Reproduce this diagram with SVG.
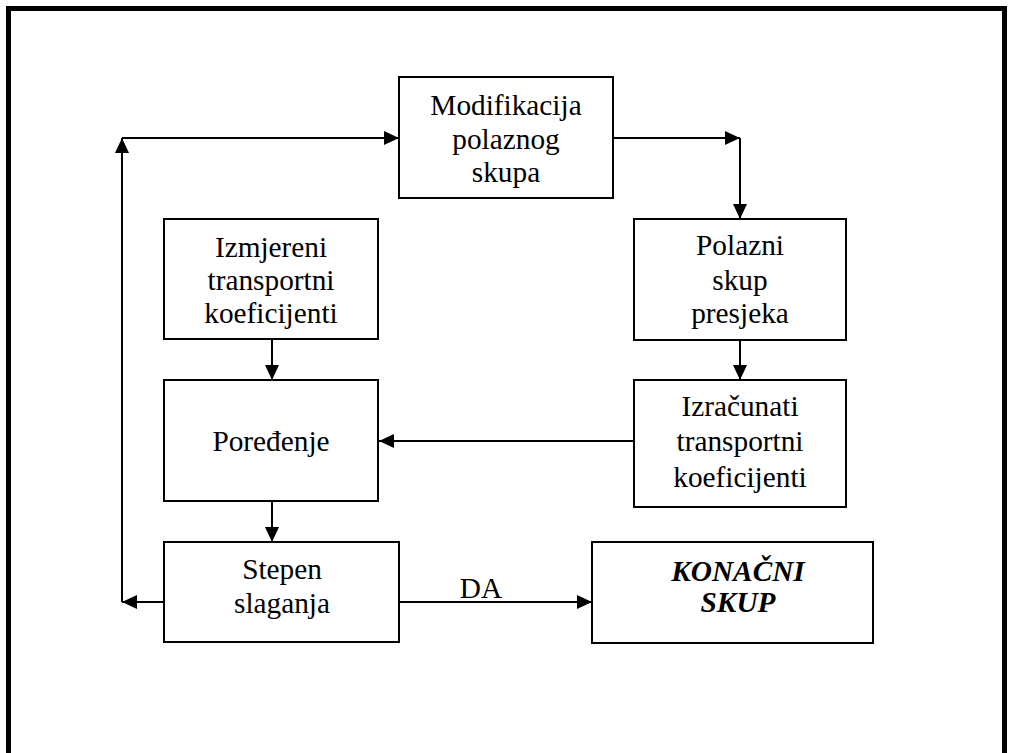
<svg xmlns="http://www.w3.org/2000/svg" width="1013" height="753" viewBox="0 0 1013 753">
<style>
.box{fill:#fff;stroke:#000;stroke-width:2}
.t{font-family:"Liberation Serif","Times New Roman",serif;font-size:29.3px;fill:#000;text-anchor:middle}
.bi{font-weight:bold;font-style:italic}
.c{fill:none;stroke:#000;stroke-width:2}
</style>
<defs>
<marker id="ah" markerUnits="userSpaceOnUse" markerWidth="16" markerHeight="14" refX="15" refY="7" orient="auto" viewBox="0 0 16 14">
<path d="M0,0 L15,7 L0,14 z" fill="#000"/>
</marker>
</defs>
<rect x="0" y="0" width="1013" height="753" fill="#fff"/>
<rect x="8.5" y="8.5" width="996" height="800" fill="none" stroke="#000" stroke-width="5"/>
<g id="connectors">
<path class="c" d="M164,602 H122" marker-end="url(#ah)"/>
<path class="c" d="M122,602 V138" marker-end="url(#ah)"/>
<path class="c" d="M122,138 H399" marker-end="url(#ah)"/>
<path class="c" d="M613,138 H740" marker-end="url(#ah)"/>
<path class="c" d="M740,138 V219" marker-end="url(#ah)"/>
<path class="c" d="M740,340 V380" marker-end="url(#ah)"/>
<path class="c" d="M634,441 H379" marker-end="url(#ah)"/>
<path class="c" d="M272,339 V380" marker-end="url(#ah)"/>
<path class="c" d="M272,501 V542" marker-end="url(#ah)"/>
<path class="c" d="M399,602 H592" marker-end="url(#ah)"/>
<text class="t" x="481" y="598">DA</text>
</g>
<g id="modifikacija">
<rect class="box" x="399" y="77" width="214" height="121"/>
<text class="t" x="506" y="115">Modifikacija</text>
<text class="t" x="506" y="149">polaznog</text>
<text class="t" x="506" y="182">skupa</text>
</g>
<g id="izmjereni">
<rect class="box" x="164" y="219" width="214" height="120"/>
<text class="t" x="271" y="257">Izmjereni</text>
<text class="t" x="271" y="290">transportni</text>
<text class="t" x="271" y="323">koeficijenti</text>
</g>
<g id="polazni">
<rect class="box" x="634" y="219" width="212" height="121"/>
<text class="t" x="740" y="255">Polazni</text>
<text class="t" x="740" y="290">skup</text>
<text class="t" x="740" y="323">presjeka</text>
</g>
<g id="poredjenje">
<rect class="box" x="164" y="380" width="214" height="121"/>
<text class="t" x="271" y="451">Poređenje</text>
</g>
<g id="izracunati">
<rect class="box" x="634" y="380" width="212" height="127"/>
<text class="t" x="740" y="416">Izračunati</text>
<text class="t" x="740" y="451">transportni</text>
<text class="t" x="740" y="487">koeficijenti</text>
</g>
<g id="stepen">
<rect class="box" x="164" y="542" width="235" height="100"/>
<text class="t" x="282" y="579">Stepen</text>
<text class="t" x="282" y="613">slaganja</text>
</g>
<g id="konacni">
<rect class="box" x="592" y="542" width="281" height="101"/>
<text class="t bi" x="738" y="581">KONAČNI</text>
<text class="t bi" x="738" y="612">SKUP</text>
</g>
</svg>
